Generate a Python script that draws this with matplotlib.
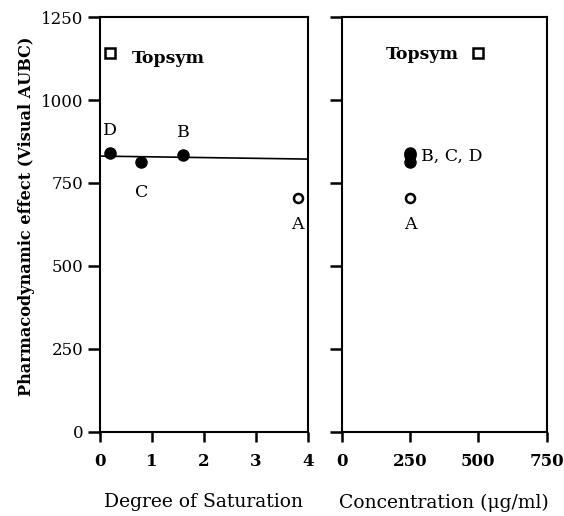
import matplotlib
matplotlib.use('Agg')
import matplotlib.pyplot as plt

plt.rcParams['font.family'] = 'DejaVu Serif'

# left panel: degree of saturation
sat_topsym = [0.19]
eff_topsym = [1142]
sat_bcd = [0.19, 0.8, 1.6]
eff_bcd = [840, 813, 834]
lbl_bcd = ['D', 'C', 'B']
sat_a = [3.8]
eff_a = [705]
fit_x = [0, 4]
fit_y = [831, 822]

# right panel: concentration
conc_topsym = [500]
conc_bcd = [250, 250, 250]
conc_a = [250]

fig = plt.figure(figsize=(5.64, 5.16), dpi=100)
ax1 = fig.add_axes([0.177, 0.163, 0.369, 0.804])
ax2 = fig.add_axes([0.606, 0.163, 0.363, 0.804])

ax1.plot(fit_x, fit_y, color='black', lw=1.2)
ax1.plot(sat_topsym, eff_topsym, 's', ms=6.5, mfc='white', mec='black', mew=1.8)
ax1.plot(sat_bcd, eff_bcd, 'o', ms=8, color='black')
ax1.plot(sat_a, eff_a, 'o', ms=6.5, mfc='white', mec='black', mew=1.8)

ax1.annotate('Topsym', (sat_topsym[0], eff_topsym[0]), xytext=(16, -7),
             textcoords='offset points', fontsize=12.5, fontweight='bold')
offs = {'D': (0, 16), 'C': (0, -22), 'B': (0, 16)}
for x, y, l in zip(sat_bcd, eff_bcd, lbl_bcd):
    ax1.annotate(l, (x, y), xytext=offs[l], textcoords='offset points',
                 ha='center', va='center', fontsize=12.5)
ax1.annotate('A', (sat_a[0], eff_a[0]), xytext=(0, -19), textcoords='offset points',
             ha='center', va='center', fontsize=12.5)

ax2.plot(conc_topsym, eff_topsym, 's', ms=6.5, mfc='white', mec='black', mew=1.8)
ax2.plot(conc_bcd, eff_bcd, 'o', ms=8, color='black')
ax2.plot(conc_a, eff_a, 'o', ms=6.5, mfc='white', mec='black', mew=1.8)
ax2.annotate('Topsym', (conc_topsym[0], eff_topsym[0]), xytext=(-14, -1),
             textcoords='offset points', ha='right', va='center',
             fontsize=12.5, fontweight='bold')
ax2.annotate('B, C, D', (conc_bcd[0], sum(eff_bcd) / 3), xytext=(8, 0),
             textcoords='offset points', ha='left', va='center', fontsize=12.5)
ax2.annotate('A', (conc_a[0], eff_a[0]), xytext=(0, -19), textcoords='offset points',
             ha='center', va='center', fontsize=12.5)

for ax in (ax1, ax2):
    ax.set_ylim(0, 1250)
    ax.set_yticks([0, 250, 500, 750, 1000, 1250])
    ax.tick_params(axis='y', direction='out', length=9, width=1.8, labelsize=12, pad=3)
    ax.tick_params(axis='x', direction='out', length=7, width=1.8, labelsize=12, pad=8)
    for s in ax.spines.values():
        s.set_linewidth(1.5)

ax1.set_xlim(0, 4)
ax1.set_xticks([0, 1, 2, 3, 4])
ax1.set_ylabel('Pharmacodynamic effect (Visual AUBC)', fontsize=11.6, fontweight='bold')
ax1.yaxis.set_label_coords(-0.31, 0.52)
ax1.set_xlabel('Degree of Saturation', fontsize=13.5, labelpad=17)

ax2.set_xlim(0, 750)
ax2.set_xticks([0, 250, 500, 750])
ax2.set_yticklabels([])
ax2.set_xlabel('Concentration (\u03bcg/ml)', fontsize=13.5, labelpad=17)

for t in ax1.get_xticklabels() + ax2.get_xticklabels():
    t.set_fontweight('bold')

fig.savefig('out.png', dpi=100)
